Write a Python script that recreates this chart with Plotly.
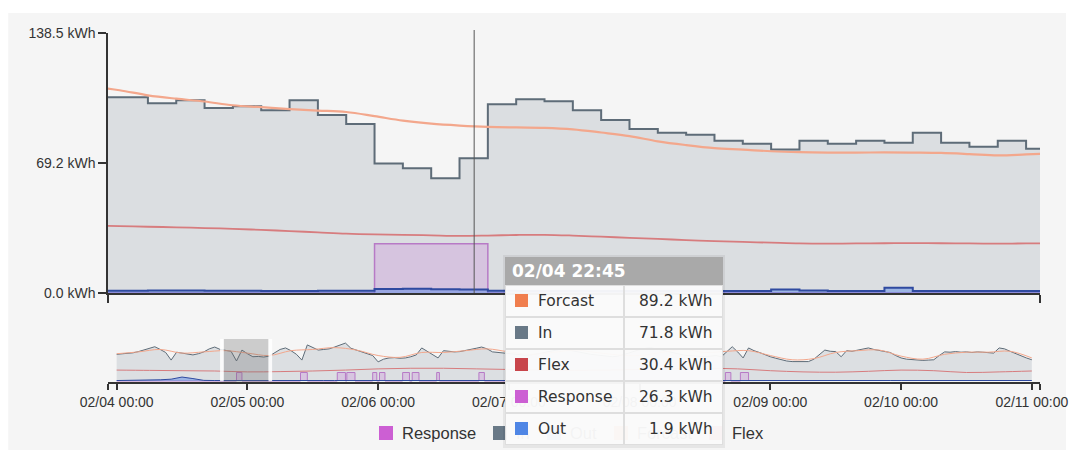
import pandas as pd
import plotly.graph_objects as go

# ------------------------------------------------------------------ data
# Focus (main) chart: 15-minute steps starting 02/04 19:30
main_start = "2021-02-04 19:30"
main_in = [104.3, 104.3, 101.1, 102.7, 98.5, 99.5, 97.4, 102.7, 94.8, 90.0,
           69.0, 66.4, 61.1, 71.8, 100.6, 103.2, 102.2, 97.4, 92.2, 87.4,
           85.3, 84.3, 81.1, 79.5, 76.4, 81.1, 79.5, 81.1, 80.0, 85.3,
           80.0, 77.9, 81.1, 76.9]
main_response = [0, 0, 0, 0, 0, 0, 0, 0, 0, 0,
                 26.3, 26.3, 26.3, 26.3, 0, 0, 0, 0, 0, 0,
                 0, 0, 0, 0, 0, 0, 0, 0, 0, 0,
                 0, 0, 0, 0]
main_out = [1.2, 1.2, 1.3, 1.3, 1.2, 1.2, 1.1, 1.1, 1.2, 1.2,
            2.1, 2.2, 2.0, 1.9, 1.2, 1.1, 1.1, 1.0, 1.0, 1.1,
            1.1, 1.0, 1.0, 1.0, 1.8, 1.3, 1.0, 1.0, 2.8, 1.1,
            1.0, 1.0, 1.1, 1.0]
main_forcast = [110.0, 108.0, 105.3, 103.5, 102.0, 100.0, 99.0, 98.0, 97.2, 96.4,
                94.2, 91.8, 90.2, 89.2, 88.5, 88.2, 88.0, 87.2, 85.5, 83.6,
                80.8, 78.8, 77.2, 76.4, 75.5, 75.0, 74.8, 74.8, 74.9, 74.8,
                74.6, 74.0, 73.3, 73.8, 74.4]
main_flex = [36.0, 35.6, 35.3, 35.0, 34.6, 34.2, 33.6, 33.0, 32.3, 31.6,
             31.2, 31.0, 30.7, 30.4, 30.6, 30.9, 31.0, 30.6, 30.0, 29.4,
             28.8, 28.2, 27.6, 27.2, 26.8, 26.4, 26.3, 26.4, 26.5, 26.6,
             26.5, 26.4, 26.3, 26.4, 26.4]
main_view = ("2021-02-04 19:38:52", "2021-02-05 03:52:22")
hover_time = "2021-02-04 22:52:45"

# Context (mini) chart: one week
mini_start = "2021-02-04 00:00"
mini_in_hourly = [
    88, 89, 91, 93, 97, 102, 108, 113, 104, 94, 69, 95, 92, 88, 86, 90, 96, 106, 112, 104,
    101, 98, 66, 102, 90, 80, 81, 79, 82, 92, 104, 109, 100, 88, 69, 119, 110, 102, 104, 106,
    112, 118, 125, 108, 102, 98, 92, 84, 63, 72, 76, 77, 75, 76, 80, 86, 109, 98, 88, 76,
    100, 98, 96, 97, 100, 104, 108, 112, 106, 96, 94,
    92, 90, 88, 86, 85, 86, 88, 92, 96, 100, 104, 106, 102, 98, 94, 90, 88, 86, 84, 82,
    80, 82, 86, 92, 98, 104, 108, 110, 106, 100, 96, 92, 88, 86, 84, 82, 80, 80, 82, 84,
    80, 98, 113, 96, 76, 109, 100, 94, 86, 80, 75, 70, 66, 64, 64, 65, 64, 72, 88, 102,
    98, 97, 80, 100, 98, 102, 104, 109, 104, 100, 98, 94, 84, 76, 72, 70, 69, 68, 69, 70,
    84, 96, 95, 97, 95, 96, 94, 96, 95, 93, 92, 109, 106, 98, 90, 84, 76, 70]
mini_forcast_4h = [90, 96, 104, 92, 96, 100, 92, 84, 100, 104, 110, 102, 84, 78, 94,
                   94, 100, 106, 96, 88, 94, 102, 94, 86, 84, 94, 104, 94, 98, 100,
                   84, 70, 74, 94, 100, 102, 82, 72, 88, 95, 95, 98, 76]
mini_flex_6h = [36, 35, 34, 33, 30, 31, 33, 36, 40, 42, 42, 40, 38, 36, 35,
                36, 38, 40, 42, 40, 34, 30, 29, 32, 36, 34, 28, 30, 33]
mini_out_2h = [1.5, 1.6, 1.5, 1.8, 4.0, 6.0, 13.0, 8.0, 2.0, 1.5, 1.3, 2.0, 1.2, 1.1, 1.2,
               1.4, 1.6, 1.5, 1.4, 1.6, 1.5, 1.6, 1.4, 1.5, 1.6, 1.4, 1.5, 1.6, 1.5, 1.4,
               1.5, 1.6, 1.4, 1.5, 1.6, 1.5,
               1.5, 1.4, 1.6, 1.5, 1.5, 1.4, 1.6, 1.5, 1.5, 1.6, 1.4, 1.5, 1.5, 1.6, 1.4,
               1.5, 1.5, 1.6, 1.5, 1.4,
               1.5, 1.6, 1.4, 1.5, 1.6, 1.5, 1.4, 1.5, 1.6, 3.0, 3.5, 1.6, 1.5, 1.4, 1.5,
               1.6, 1.5, 1.4, 1.5, 1.6, 1.5, 1.4, 1.5, 1.6, 1.5, 1.5, 1.4, 1.5, 1.6]
mini_response_start_h = [22.0, 33.75, 40.5, 42.25, 47.0, 48.25, 52.5, 54.25, 58.75,
                         66.5, 111.75, 114.5]
mini_response_end_h = [23.0, 35.0, 42.0, 43.75, 47.75, 49.25, 53.75, 55.5, 59.25,
                       67.5, 112.75, 116.0]
mini_response_level = 28.0
mini_view_h = (-1.59, 169.5)

y_tick_values = [0, 69.2, 138.5]
y_tick_labels = ["0.0 kWh", "69.2 kWh", "138.5 kWh"]
mini_day_labels = ["02/04 00:00", "02/05 00:00", "02/06 00:00", "02/07 00:00",
                   "02/08 00:00", "02/09 00:00", "02/10 00:00", "02/11 00:00"]

tooltip_title = "02/04 22:45"
tooltip_names = ["Forcast", "In", "Flex", "Response", "Out"]
tooltip_values = [89.2, 71.8, 30.4, 26.3, 1.9]
legend_names = ["Response", "In", "Out", "Forcast", "Flex"]

# ------------------------------------------------------------------ styles
SWATCH = {"Forcast": "#f07e4e", "In": "#697987", "Flex": "#c8454b",
          "Response": "#cc5fd3", "Out": "#4f86e5"}
LINE = {"Forcast": "#f3a78c", "In": "#5e6c78", "Flex": "#d77c7e",
        "Response": "#b77ac6", "Out": "#2f4aa0"}
FONT = "Liberation Sans, Arial, sans-serif"
AXIS = "#333333"

# page geometry helpers (pixel -> paper)
ML, MR, MT, MB = 108, 38, 33, 68
W, H = 1080, 450
PW, PH = W - ML - MR, H - MT - MB


def px(x):
    return (x - ML) / PW


def py(y):
    return (H - MB - y) / PH


# ------------------------------------------------------------------ series
t_main = pd.date_range(main_start, periods=len(main_forcast), freq="15min")
t_step = list(t_main[:len(main_in)]) + [t_main[len(main_in)]]


def stepped(vals):
    return list(vals) + [vals[-1]]


t0 = pd.Timestamp(mini_start)
t_in = pd.date_range(mini_start, periods=len(mini_in_hourly), freq="h")
t_fc = pd.date_range(mini_start, periods=len(mini_forcast_4h), freq="4h")
t_fx = pd.date_range(mini_start, periods=len(mini_flex_6h), freq="6h")
t_out = pd.date_range(mini_start, periods=len(mini_out_2h), freq="2h")

resp_x, resp_y = [t0], [0.0]
for s, e in zip(mini_response_start_h, mini_response_end_h):
    resp_x += [t0 + pd.Timedelta(hours=s), t0 + pd.Timedelta(hours=e)]
    resp_y += [mini_response_level, 0.0]

fig = go.Figure()

# main chart
fig.add_trace(go.Scatter(x=t_step, y=stepped(main_in), mode="lines", line_shape="hv",
                         line=dict(color=LINE["In"], width=2), fill="tozeroy",
                         fillcolor="#dbdee1", name="In", xaxis="x", yaxis="y"))
fig.add_trace(go.Scatter(x=t_step, y=stepped(main_response), mode="lines", line_shape="hv",
                         line=dict(color=LINE["Response"], width=1.5), fill="tozeroy",
                         fillcolor="rgba(200,120,220,0.25)", name="Response",
                         xaxis="x", yaxis="y"))
fig.add_trace(go.Scatter(x=t_step, y=stepped(main_out), mode="lines", line_shape="hv",
                         line=dict(color=LINE["Out"], width=2), fill="tozeroy",
                         fillcolor="rgba(80,130,230,0.45)", name="Out", xaxis="x", yaxis="y"))
fig.add_trace(go.Scatter(x=t_main, y=main_flex, mode="lines", line_shape="spline",
                         line=dict(color=LINE["Flex"], width=1.8), name="Flex",
                         xaxis="x", yaxis="y"))
fig.add_trace(go.Scatter(x=t_main, y=main_forcast, mode="lines", line_shape="spline",
                         line=dict(color=LINE["Forcast"], width=2.2), name="Forcast",
                         xaxis="x", yaxis="y"))

# mini chart
fig.add_trace(go.Scatter(x=t_in, y=mini_in_hourly, mode="lines",
                         line=dict(color=LINE["In"], width=1), fill="tozeroy",
                         fillcolor="#dcdfe2", xaxis="x2", yaxis="y2"))
fig.add_trace(go.Scatter(x=resp_x, y=resp_y, mode="lines", line_shape="hv",
                         line=dict(color=LINE["Response"], width=1), fill="tozeroy",
                         fillcolor="rgba(200,120,220,0.25)", xaxis="x2", yaxis="y2"))
fig.add_trace(go.Scatter(x=t_out, y=mini_out_2h, mode="lines",
                         line=dict(color=LINE["Out"], width=1), fill="tozeroy",
                         fillcolor="rgba(80,130,230,0.45)", xaxis="x2", yaxis="y2"))
fig.add_trace(go.Scatter(x=t_fx, y=mini_flex_6h, mode="lines", line_shape="spline",
                         line=dict(color=LINE["Flex"], width=1), xaxis="x2", yaxis="y2"))
fig.add_trace(go.Scatter(x=t_fc, y=mini_forcast_4h, mode="lines", line_shape="spline",
                         line=dict(color=LINE["Forcast"], width=1), xaxis="x2", yaxis="y2"))

for tr in fig.data:
    tr.showlegend = False
    tr.hoverinfo = "skip"

# axes
days = list(pd.date_range(mini_start, periods=len(mini_day_labels), freq="D"))
mini_r0 = t0 + pd.Timedelta(hours=mini_view_h[0])
mini_r1 = t0 + pd.Timedelta(hours=mini_view_h[1])

fig.update_layout(
    width=W, height=H, autosize=False,
    margin=dict(l=ML, r=MR, t=MT, b=MB, pad=0),
    paper_bgcolor="white", plot_bgcolor="rgba(0,0,0,0)",
    font=dict(family=FONT, color=AXIS, size=14),
    showlegend=False,
    xaxis=dict(domain=[0, 1], anchor="y", range=list(main_view), type="date",
               showgrid=False, zeroline=False, showline=True, linecolor=AXIS, linewidth=1.5,
               tickmode="array", tickvals=list(main_view), ticktext=["", ""],
               ticks="outside", ticklen=8, tickcolor=AXIS, tickwidth=1.5, fixedrange=True),
    yaxis=dict(domain=[py(293), 1], anchor="x", range=[0, 138.5],
               showgrid=False, zeroline=False, showline=True, linecolor=AXIS, linewidth=1.5,
               tickmode="array", tickvals=y_tick_values, ticktext=y_tick_labels,
               ticks="outside", ticklen=8, tickcolor=AXIS, tickwidth=1.5,
               tickfont=dict(size=14, family=FONT, color=AXIS), fixedrange=True),
    xaxis2=dict(domain=[0, 1], anchor="y2", range=[mini_r0, mini_r1], type="date",
                showgrid=False, zeroline=False, showline=True, linecolor=AXIS, linewidth=1.5,
                tickmode="array", tickvals=[mini_r0] + days + [mini_r1],
                ticktext=[""] + mini_day_labels + [""],
                ticks="outside", ticklen=6, tickcolor=AXIS, tickwidth=1.5,
                tickfont=dict(size=14, family=FONT, color=AXIS), fixedrange=True),
    yaxis2=dict(domain=[0, py(339)], anchor="x2", range=[-3.3, 138.5], visible=False,
                fixedrange=True),
)

# background panel, crosshair, brush
shapes = [
    dict(type="rect", xref="paper", yref="paper", x0=px(8), x1=px(1068), y0=py(450),
         y1=py(13), fillcolor="#f5f5f5", line=dict(width=0), layer="below"),
    dict(type="line", xref="x", yref="paper", x0=hover_time, x1=hover_time,
         y0=py(293), y1=py(30), line=dict(color="#555555", width=1), layer="above"),
    dict(type="rect", xref="x2", yref="paper", x0=main_view[0], x1=main_view[1],
         y0=py(382), y1=py(339), fillcolor="rgba(110,110,110,0.30)",
         line=dict(width=0), layer="above"),
    dict(type="rect", xref="x2", yref="paper",
         x0=pd.Timestamp(main_view[0]) - pd.Timedelta(minutes=40), x1=main_view[0],
         y0=py(381), y1=py(339), fillcolor="rgba(255,255,255,0.85)",
         line=dict(width=0), layer="above"),
    dict(type="rect", xref="x2", yref="paper",
         x0=main_view[1], x1=pd.Timestamp(main_view[1]) + pd.Timedelta(minutes=40),
         y0=py(381), y1=py(339), fillcolor="rgba(255,255,255,0.85)",
         line=dict(width=0), layer="above"),
]
fig.update_layout(shapes=shapes)


# ------------------------------------------------------------------ legend + tooltip
def box(x0, y0, x1, y1, fill, border="rgba(0,0,0,0)", bw=0):
    return dict(xref="paper", yref="paper", x=px(x0), y=py(y0), xanchor="left",
                yanchor="top", text=" ", showarrow=False, width=max(1, x1 - x0 - 2 * bw),
                height=max(1, y1 - y0 - 2 * bw), bgcolor=fill, bordercolor=border,
                borderwidth=bw, borderpad=0)


def label(x, y, text, anchor="left", size=16.5, color=AXIS, family=FONT):
    return dict(xref="paper", yref="paper", x=px(x), y=py(y), xanchor=anchor,
                yanchor="middle", text=text, showarrow=False, borderpad=0, borderwidth=0,
                font=dict(size=size, color=color, family=family))


ann = []
legend_square_x = [380, 494, 548, 615, 710]
for name, sx in zip(legend_names, legend_square_x):
    ann.append(box(sx, 426, sx + 14, 440, SWATCH[name]))
    ann.append(label(sx + 23, 433, name, size=16.5))

TX0, TX1, TCOL = 506, 724, 625
ann.append(box(TX0 - 2, 255, TX1 + 2, 448, "rgba(0,0,0,0.06)"))
ann.append(box(TX0, 257, TX1, 285, "#a9a9a9"))
ann.append(label(513, 271, "<b>" + tooltip_title + "</b>", size=17, color="white",
                 family="DejaVu Sans, sans-serif"))
ROW_H = 32
for i, (name, val) in enumerate(zip(tooltip_names, tooltip_values)):
    top = 285 + i * ROW_H
    ann.append(box(TX0, top, TCOL, top + ROW_H, "rgba(251,251,251,0.96)", "#dedede", 1))
    ann.append(box(TCOL, top, TX1, top + ROW_H, "rgba(251,251,251,0.96)", "#dedede", 1))
    ann.append(box(516, top + 9, 529, top + 22, SWATCH[name]))
    ann.append(label(539, top + ROW_H / 2, name, size=15.5, color="#333333",
                     family="DejaVu Sans, sans-serif"))
    ann.append(label(714, top + ROW_H / 2, f"{val:.1f} kWh", anchor="right", size=15.5,
                     color="#333333", family="DejaVu Sans, sans-serif"))

fig.update_layout(annotations=ann)

fig.write_html("out.html", config={"displayModeBar": False},
               post_script="document.body.style.margin='0';")
